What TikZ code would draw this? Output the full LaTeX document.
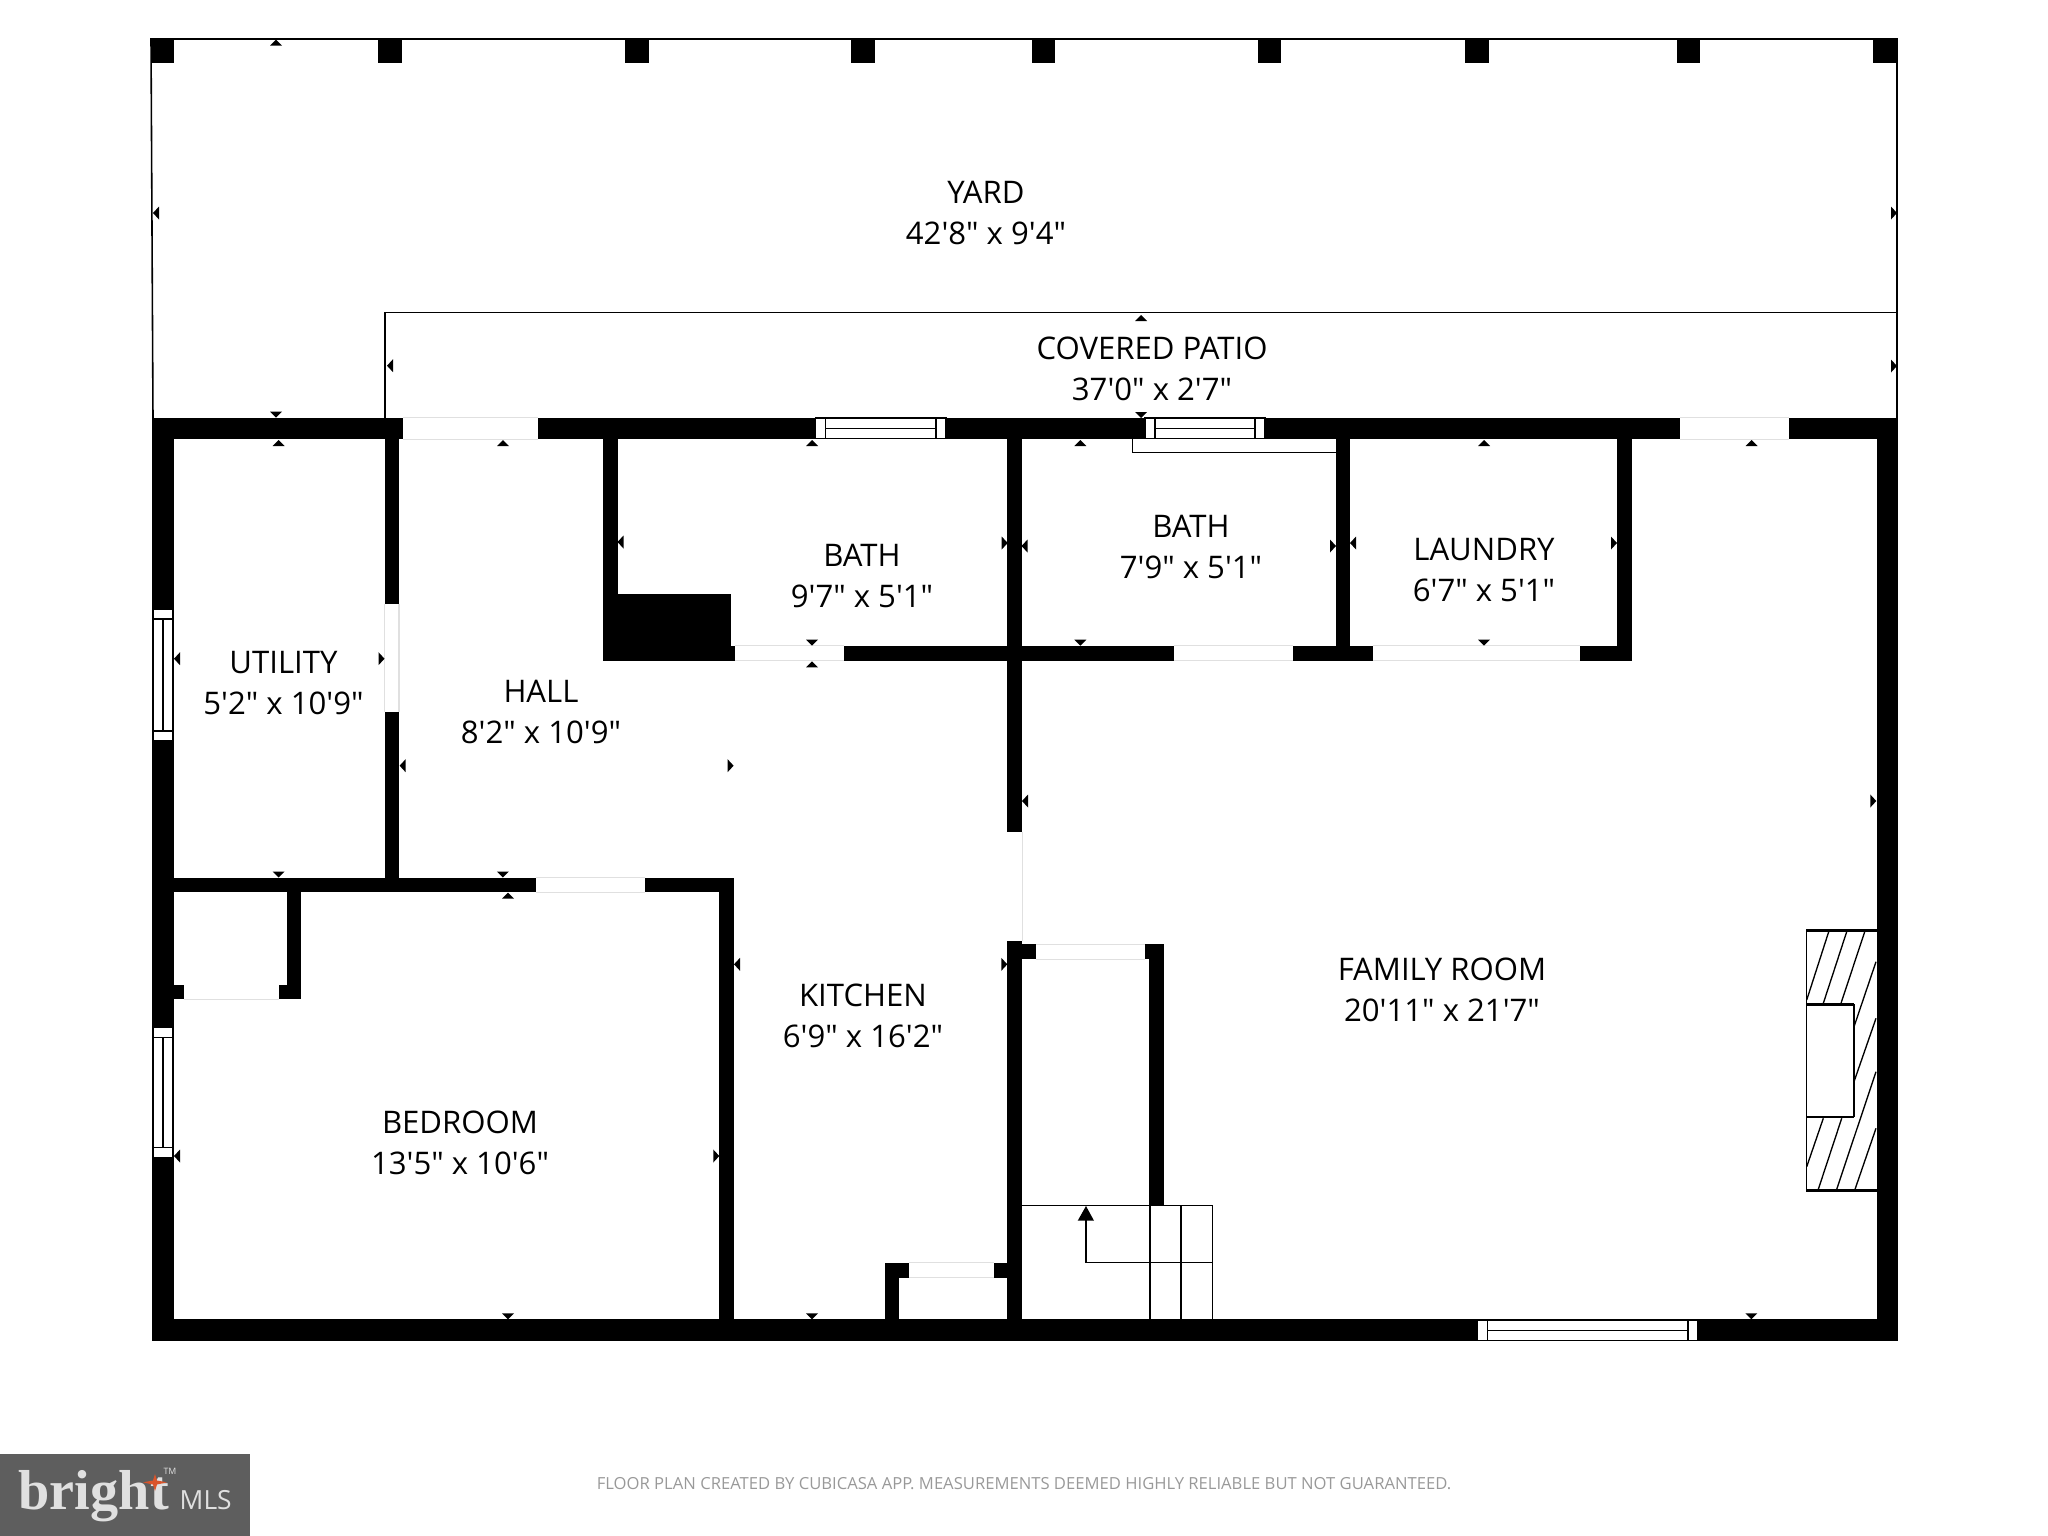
\documentclass[tikz,border=0pt]{standalone}
\usepackage{fontspec}
\setmainfont[Ligatures=TeXOff]{Open Sans}
\newfontfamily\logofont{Liberation Serif}
\definecolor{slab}{rgb}{0.37,0.37,0.37}
\definecolor{flare}{rgb}{0.85,0.33,0.17}
\definecolor{jamb}{rgb}{0.88,0.88,0.88}
\tikzset{
  roomlabel/.style={align=center,font=\fontsize{8.85pt}{11.5pt}\selectfont,inner sep=0pt},
  edge/.style={line width=0.45pt},
  thinedge/.style={line width=0.38pt},
  pane/.style={line width=0.3pt,fill=white},
  gap/.style={line width=0.3pt,jamb},
}
% wall openings, with the two jambs in light grey
\newcommand{\doorh}[4]{\fill[white] (#1,#2) rectangle (#3,#4);
  \draw[gap] (#1,#2)--(#3,#2) (#1,#4)--(#3,#4);}
\newcommand{\doorv}[4]{\fill[white] (#1,#2) rectangle (#3,#4);
  \draw[gap] (#1,#2)--(#1,#4) (#3,#2)--(#3,#4);}
% windows
\newcommand{\winh}[4]{\draw[pane] (#1,#2) rectangle (#3,#4);
  \draw[pane] (#1+10,#2)--(#1+10,#4) (#3-10,#2)--(#3-10,#4);
  \draw[pane] (#1+10,{(#2+#4)/2})--(#3-10,{(#2+#4)/2});}
\newcommand{\winv}[4]{\draw[pane] (#1,#2) rectangle (#3,#4);
  \draw[pane] (#1,#2+10)--(#3,#2+10) (#1,#4-10)--(#3,#4-10);
  \draw[pane] ({(#1+#3)/2},#2+10)--({(#1+#3)/2},#4-10);}
% measuring marks, the tip on the given point
\newcommand{\mup}[2]{\fill (#1,#2)--(#1-6,#2+6)--(#1+6,#2+6)--cycle;}
\newcommand{\mdown}[2]{\fill (#1,#2)--(#1-6,#2-6)--(#1+6,#2-6)--cycle;}
\newcommand{\mleft}[2]{\fill (#1,#2)--(#1+6,#2-6.5)--(#1+6,#2+6.5)--cycle;}
\newcommand{\mright}[2]{\fill (#1,#2)--(#1-6,#2-6.5)--(#1-6,#2+6.5)--cycle;}

\begin{document}
\begin{tikzpicture}[x=0.01cm,y=-0.01cm]
\useasboundingbox (0,0) rectangle (2048,1536);

% yard and patio outlines
\draw[edge] (153,418)--(151,39)--(1897,39)--(1897,418);
\draw[edge] (385,418)--(385,312.7)--(1897,312.7);

% posts along the yard
\begin{scope}[black]
\fill (151,39) rectangle (174,62.7);
\fill (378,39) rectangle (401.5,62.7);
\fill (625,39) rectangle (649,62.7);
\fill (851,39) rectangle (875,62.7);
\fill (1032,39) rectangle (1055,62.7);
\fill (1258,39) rectangle (1281,62.7);
\fill (1465,39) rectangle (1489,62.7);
\fill (1677,39) rectangle (1700,62.7);
\fill (1873,39) rectangle (1897,62.7);
\end{scope}

% walls
\begin{scope}[black]
\fill (152.3,417.7) rectangle (1897.5,439.3);
\fill (152.3,417.7) rectangle (173.8,1341);
\fill (1876.5,417.7) rectangle (1897.5,1341);
\fill (152.3,1319.3) rectangle (1897.5,1341);
\fill (384.5,439) rectangle (399,877.7);
\fill (603,439) rectangle (617.5,660.7);
\fill (603,594.3) rectangle (731,660.7);
\fill (731,645.7) rectangle (1173.8,660.7);
\fill (1007.3,439) rectangle (1022,832);
\fill (1336,439) rectangle (1350,660.7);
\fill (1617,439) rectangle (1631.7,660.7);
\fill (1292.5,645.7) rectangle (1373,660.7);
\fill (1580,645.7) rectangle (1631.7,660.7);
\fill (173,877.7) rectangle (734,892.3);
\fill (719.3,877.7) rectangle (734,1320);
\fill (286.7,892) rectangle (301.4,999.3);
\fill (279,984.7) rectangle (301.4,999.3);
\fill (173,984.7) rectangle (183.6,999.3);
\fill (1007.3,941.3) rectangle (1022,1320);
\fill (1022,944.3) rectangle (1036,959.3);
\fill (1145,944.3) rectangle (1164,959.3);
\fill (1149.3,944.3) rectangle (1164,1205.3);
\fill (885,1262.7) rectangle (899.3,1320);
\fill (885,1262.7) rectangle (909,1277.7);
\fill (993.7,1262.7) rectangle (1008,1277.7);
\end{scope}

% openings
\doorh{403}{417.7}{537.6}{439.3}
\doorh{1680}{417.7}{1788.7}{439.3}
\doorh{735}{645.7}{843.8}{660.7}
\doorh{1173.8}{645.7}{1292.5}{660.7}
\doorh{1373}{645.7}{1580}{660.7}
\doorh{535.8}{877.7}{644.7}{892.3}
\doorh{1036}{944.3}{1145}{959.3}
\doorh{909}{1262.7}{993.7}{1277.7}
\doorv{384.5}{603.7}{399}{712.3}
\draw[gap] (183.6,999.3)--(279,999.3);
\draw[gap] (1022.3,832)--(1022.3,941.3);

% windows
\winh{815.7}{418}{946}{438.7}
\winh{1145}{418}{1265}{438.7}
\winh{1477.7}{1320}{1698}{1340.7}
\winv{153}{609}{173}{741}
\winv{153}{1027.3}{173}{1157.7}

% ledge in the second bath
\draw[thinedge] (1132.7,439)--(1132.7,452.7)--(1336,452.7);

% stairs
\begin{scope}[thinedge]
\draw (1022,1205.3)--(1212.3,1205.3)--(1212.3,1319.3);
\draw (1150,1205.3)--(1150,1319.3);
\draw (1181,1205.3)--(1181,1319.3);
\draw (1212.3,1262.7)--(1086,1262.7)--(1086,1218);
\fill (1086,1206)--(1077.7,1220.7)--(1094,1220.7)--cycle;
\end{scope}

% fireplace
\begin{scope}[thinedge]
\draw (1806.7,1000)--(1828.7,931.7);
\draw (1823.3,1003.3)--(1846.7,931.7);
\draw (1841,1003.3)--(1864.7,931.7);
\draw (1854,1026.7)--(1876,961.7);
\draw (1854,1081.7)--(1876,1018.3);
\draw (1836.7,1189.3)--(1876,1071.7);
\draw (1855,1189.3)--(1876,1128.3);
\draw (1818.3,1189.3)--(1841.7,1118.3);
\draw (1806.7,1166.7)--(1823.3,1118.3);
\draw (1806.3,930)--(1806.3,1191);
\draw (1854,1004)--(1854,1117);
\draw[line width=0.75pt] (1806,930.3)--(1876.5,930.3);
\draw[line width=0.75pt] (1806,1190.5)--(1876.5,1190.5);
\draw[line width=0.75pt] (1806,1004.5)--(1854.3,1004.5);
\draw[line width=0.75pt] (1806,1117)--(1854.3,1117);
\end{scope}

% measuring marks
\mup{276}{39.7}
\mleft{153}{213}
\mright{1897}{213}
\mup{1141}{315}
\mleft{387}{365.7}
\mright{1897}{366}
\mdown{276}{417.7}
\mdown{1141}{418}
\mup{278.7}{440}
\mup{503}{440}
\mup{812}{440}
\mup{1080.4}{440}
\mup{1484}{440}
\mup{1751.7}{440}
\mleft{617.5}{542}
\mright{1007.7}{543}
\mleft{1021.5}{546}
\mright{1336}{546}
\mleft{1350}{543}
\mright{1617}{543}
\mdown{812}{645.7}
\mdown{1080.4}{645.7}
\mdown{1484}{645.7}
\mup{812}{661.3}
\mleft{174}{658.7}
\mright{384.5}{658.7}
\mleft{399.6}{765.7}
\mright{733.6}{765.7}
\mleft{1022}{801}
\mright{1876.3}{801}
\mdown{278.7}{877.5}
\mdown{502.8}{877.5}
\mup{508}{892.7}
\mleft{734}{964.3}
\mright{1007.3}{964.3}
\mleft{174}{1156}
\mright{719.3}{1156}
\mdown{508}{1319.3}
\mdown{812}{1319.3}
\mdown{1751.3}{1319.3}

% room labels
\node[roomlabel] (yard) at (986,213) {YARD\\42'8" x 9'4"};
\node[roomlabel] (patio) at (1152,369) {COVERED PATIO\\37'0" x 2'7"};
\node[roomlabel] (bathone) at (862,576) {BATH\\9'7" x 5'1"};
\node[roomlabel] (bathtwo) at (1191,547) {BATH\\7'9" x 5'1"};
\node[roomlabel] (laundry) at (1484,570) {LAUNDRY\\6'7" x 5'1"};
\node[roomlabel] (utility) at (283.5,683) {UTILITY\\5'2" x 10'9"};
\node[roomlabel] (hall) at (541,712) {HALL\\8'2" x 10'9"};
\node[roomlabel] (kitchen) at (863,1016) {KITCHEN\\6'9" x 16'2"};
\node[roomlabel] (family) at (1442,990) {FAMILY ROOM\\20'11" x 21'7"};
\node[roomlabel] (bedroom) at (460,1143) {BEDROOM\\13'5" x 10'6"};

% footer
\node[inner sep=0pt,text=black!40,font=\fontsize{4.73pt}{6pt}\selectfont] (note) at (1024,1483.5)
  {FLOOR PLAN CREATED BY CUBICASA APP. MEASUREMENTS DEEMED HIGHLY RELIABLE BUT NOT GUARANTEED.};

% logo
\fill[slab] (0,1454) rectangle (250,1536);
\node[inner sep=0pt,anchor=base west,text=black!12,font=\logofont\bfseries\fontsize{16pt}{16pt}\selectfont] (bright) at (18,1509) {bright};
\fill[flare] (143,1482.3)--(153,1480.5)--(155,1474)--(157,1480.5)--(167,1482.3)--(157,1484.5)--(155,1491)--(153,1484.5)--cycle;
\node[inner sep=0pt,text=black!12,font=\fontsize{2.5pt}{3pt}\selectfont] (tm) at (170,1471) {TM};
\node[inner sep=0pt,anchor=base west,text=black!12,font=\fontsize{7.5pt}{8pt}\selectfont] (mls) at (179,1509) {MLS};
\end{tikzpicture}
\end{document}
